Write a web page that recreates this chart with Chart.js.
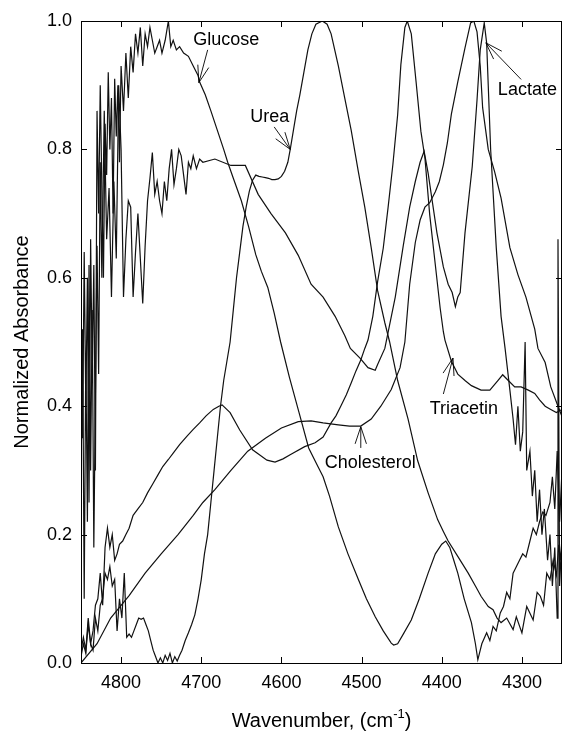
<!DOCTYPE html>
<html>
<head>
<meta charset="utf-8">
<script src="https://cdn.jsdelivr.net/npm/chart.js@4.4.1/dist/chart.umd.min.js"></script>
<style>
  html, body { margin: 0; padding: 0; background: #fff; }
</style>
</head>
<body>
<canvas id="spectra" width="563" height="733"></canvas>
<script>
// normalized NIR absorbance spectra, [wavenumber (cm-1), absorbance]
const glucose = [
  [4850,0.50],[4848,0.35],[4846,0.64],[4844,0.40],[4842,0.60],[4840,0.25],[4838,0.66],[4836,0.45],
  [4834,0.62],[4832,0.30],[4830,0.86],[4828,0.70],[4826,0.90],[4824,0.74],[4822,0.60],[4820,0.84],
  [4818,0.76],[4816,0.92],[4814,0.80],[4812,0.88],[4810,0.70],[4808,0.91],[4806,0.82],[4804,0.90],
  [4802,0.78],[4800,0.93],[4797,0.86],[4794,0.95],[4791,0.88],[4788,0.96],[4785,0.92],[4782,0.98],
  [4779,0.95],[4776,0.99],[4773,0.93],[4770,0.98],[4767,0.96],[4764,0.99],[4761,0.97],[4758,0.95],
  [4755,0.96],[4752,0.97],[4749,0.95],[4745,0.97],[4741,1.0],[4738,0.96],[4735,0.97],[4731,0.955],
  [4727,0.96],[4722,0.95],[4716,0.945],[4710,0.93],[4704,0.915],[4702,0.905],[4695,0.885],[4688,0.86],
  [4680,0.83],[4672,0.80],[4667,0.78],[4660,0.755],[4650,0.72],[4641,0.68],[4632,0.636],[4625,0.61],
  [4617,0.585],[4609,0.545],[4601,0.50],[4590,0.445],[4578,0.39],[4566,0.335],[4554,0.305],[4548,0.29],
  [4540,0.26],[4529,0.212],[4517,0.17],[4504,0.13],[4494,0.10],[4483,0.072],[4473,0.05],[4463,0.031],
  [4460,0.028],[4455,0.03],[4448,0.045],[4438,0.067],[4428,0.10],[4417,0.14],[4408,0.17],[4400,0.185],
  [4395,0.19],[4390,0.18],[4385,0.16],[4380,0.14],[4372,0.10],[4363,0.063],[4358,0.03],[4355,0.005],
  [4350,0.03],[4344,0.047],[4340,0.035],[4336,0.057],[4332,0.05],[4327,0.078],[4323,0.088],[4319,0.11],
  [4315,0.10],[4311,0.14],[4307,0.15],[4303,0.16],[4299,0.17],[4295,0.165],[4290,0.19],[4286,0.21],
  [4282,0.20],[4278,0.22],[4274,0.235],[4270,0.23],[4265,0.25],[4262,0.29],[4259,0.24],[4256,0.33],
  [4253,0.22],[4250,0.30]
];

const urea = [
  [4850,0.01],[4847,0.03],[4844,0.015],[4841,0.06],[4838,0.03],[4835,0.02],[4832,0.07],[4829,0.05],
  [4826,0.09],[4823,0.10],[4820,0.14],[4817,0.13],[4814,0.15],[4811,0.12],[4808,0.13],[4805,0.05],
  [4802,0.10],[4799,0.07],[4796,0.14],[4793,0.04],[4790,0.045],[4787,0.04],[4784,0.05],[4781,0.06],
  [4778,0.07],[4775,0.068],[4772,0.07],[4769,0.06],[4766,0.05],[4763,0.035],[4760,0.02],[4757,0.01],
  [4754,0.0],[4751,0.008],[4748,0.0],[4745,0.012],[4742,0.004],[4739,0.015],[4736,0.0],[4733,0.01],
  [4730,0.003],[4727,0.012],[4724,0.02],[4720,0.035],[4716,0.047],[4712,0.06],[4708,0.075],[4704,0.10],
  [4700,0.13],[4696,0.17],[4692,0.20],[4688,0.25],[4684,0.30],[4680,0.35],[4676,0.40],[4672,0.44],
  [4668,0.47],[4664,0.50],[4660,0.55],[4656,0.60],[4652,0.64],[4648,0.68],[4644,0.71],[4640,0.735],
  [4636,0.752],[4632,0.76],[4628,0.758],[4624,0.757],[4620,0.756],[4616,0.755],[4612,0.753],[4608,0.753],
  [4604,0.754],[4600,0.758],[4596,0.766],[4592,0.78],[4589,0.80],[4585,0.83],[4581,0.86],[4577,0.885],
  [4572,0.92],[4567,0.955],[4562,0.98],[4557,0.995],[4549,1.0],[4543,0.995],[4538,0.98],[4529,0.93],
  [4521,0.88],[4513,0.83],[4504,0.765],[4496,0.71],[4488,0.647],[4480,0.58],[4471,0.53],[4465,0.50],
  [4455,0.44],[4442,0.38],[4430,0.315],[4417,0.265],[4405,0.223],[4398,0.205],[4392,0.19],[4380,0.166],
  [4367,0.14],[4358,0.12],[4351,0.104],[4342,0.088],[4336,0.083],[4331,0.07],[4326,0.063],[4319,0.07],
  [4311,0.052],[4307,0.072],[4300,0.047],[4294,0.088],[4286,0.067],[4281,0.11],[4277,0.104],[4273,0.09],
  [4269,0.14],[4265,0.13],[4261,0.16],[4257,0.137],[4254,0.184],[4252,0.16],[4250,0.19]
];

const triacetin = [
  [4850,0.02],[4847,0.04],[4844,0.02],[4841,0.07],[4838,0.03],[4835,0.05],[4832,0.09],[4829,0.10],
  [4826,0.14],[4823,0.09],[4820,0.18],[4817,0.21],[4814,0.18],[4811,0.20],[4808,0.16],[4805,0.17],
  [4802,0.185],[4798,0.19],[4794,0.20],[4790,0.21],[4785,0.23],[4779,0.24],[4773,0.25],[4767,0.265],
  [4760,0.28],[4754,0.293],[4748,0.306],[4741,0.317],[4735,0.327],[4727,0.34],[4718,0.353],[4710,0.364],
  [4702,0.374],[4694,0.385],[4685,0.395],[4678,0.40],[4674,0.402],[4664,0.39],[4652,0.363],[4636,0.332],
  [4618,0.316],[4608,0.313],[4598,0.318],[4588,0.325],[4571,0.337],[4558,0.343],[4548,0.352],[4538,0.374],
  [4532,0.385],[4526,0.40],[4519,0.418],[4513,0.436],[4507,0.455],[4501,0.472],[4496,0.49],[4492,0.503],
  [4486,0.54],[4480,0.594],[4473,0.646],[4467,0.709],[4461,0.776],[4455,0.854],[4451,0.932],[4446,0.99],
  [4443,1.0],[4438,0.98],[4432,0.905],[4426,0.828],[4421,0.787],[4415,0.698],[4408,0.62],[4402,0.553],
  [4398,0.516],[4396,0.503],[4388,0.47],[4380,0.45],[4371,0.44],[4363,0.432],[4351,0.425],[4340,0.425],
  [4330,0.44],[4324,0.449],[4317,0.44],[4309,0.43],[4301,0.43],[4292,0.425],[4284,0.42],[4278,0.41],
  [4271,0.40],[4264,0.395],[4257,0.39],[4250,0.395]
];

const lactate = [
  [4850,0.28],[4848,0.52],[4846,0.10],[4844,0.48],[4842,0.22],[4840,0.62],[4838,0.30],[4836,0.55],
  [4834,0.18],[4832,0.42],[4830,0.65],[4828,0.45],[4826,0.78],[4824,0.60],[4821,0.86],[4818,0.66],
  [4815,0.74],[4812,0.57],[4809,0.75],[4806,0.63],[4803,0.90],[4800,0.80],[4797,0.57],[4794,0.66],
  [4791,0.72],[4788,0.71],[4785,0.57],[4782,0.64],[4779,0.70],[4776,0.63],[4773,0.56],[4770,0.65],
  [4767,0.72],[4764,0.755],[4761,0.795],[4758,0.73],[4755,0.75],[4752,0.72],[4749,0.70],[4746,0.75],
  [4743,0.72],[4740,0.77],[4737,0.80],[4734,0.745],[4731,0.77],[4728,0.80],[4725,0.79],[4722,0.76],
  [4719,0.73],[4716,0.78],[4713,0.77],[4710,0.79],[4706,0.77],[4702,0.785],[4698,0.78],[4683,0.785],
  [4663,0.775],[4645,0.775],[4629,0.73],[4613,0.70],[4595,0.67],[4579,0.635],[4563,0.59],[4548,0.57],
  [4533,0.54],[4521,0.51],[4514,0.49],[4502,0.475],[4492,0.46],[4483,0.456],[4480,0.465],[4471,0.49],
  [4458,0.57],[4448,0.65],[4440,0.71],[4433,0.75],[4427,0.78],[4422,0.797],[4417,0.763],[4406,0.67],
  [4398,0.617],[4392,0.59],[4387,0.577],[4383,0.555],[4380,0.57],[4377,0.577],[4371,0.67],[4362,0.773],
  [4356,0.877],[4352,0.955],[4347,0.997],[4344,0.966],[4339,0.80],[4332,0.647],[4326,0.54],[4321,0.49],
  [4315,0.425],[4311,0.38],[4308,0.34],[4305,0.40],[4302,0.33],[4299,0.36],[4296,0.50],[4294,0.30],
  [4290,0.33],[4287,0.26],[4284,0.30],[4281,0.22],[4278,0.27],[4275,0.20],[4272,0.24],[4268,0.16],
  [4265,0.20],[4262,0.12],[4259,0.18],[4256,0.07],[4255,0.66],[4253,0.12],[4250,0.20]
];

const cholesterol = [
  [4850,0.0],[4830,0.03],[4813,0.07],[4790,0.105],[4770,0.14],[4750,0.17],[4729,0.20],[4710,0.23],
  [4698,0.25],[4683,0.27],[4663,0.30],[4642,0.33],[4620,0.35],[4600,0.366],[4579,0.376],[4563,0.377],
  [4548,0.374],[4529,0.371],[4515,0.369],[4501,0.369],[4488,0.38],[4476,0.40],[4463,0.426],[4452,0.46],
  [4446,0.50],[4440,0.59],[4433,0.655],[4427,0.69],[4421,0.71],[4415,0.717],[4408,0.734],[4403,0.75],
  [4398,0.776],[4393,0.81],[4388,0.855],[4380,0.905],[4371,0.958],[4364,0.997],[4360,1.0],[4356,0.983],
  [4352,0.93],[4349,0.865],[4342,0.80],[4334,0.765],[4326,0.724],[4315,0.647],[4305,0.605],[4295,0.57],
  [4284,0.52],[4280,0.49],[4271,0.468],[4264,0.43],[4255,0.40],[4250,0.384]
];

const xTicks = [4800, 4700, 4600, 4500, 4400, 4300];
const yTicks = [0, 0.2, 0.4, 0.6, 0.8, 1.0];

// curve labels: text anchor and arrow (tip on the curve, tail near the text), in data units
const labels = [
  { text: "Glucose",     at: [4710, 0.963], tip: [4703, 0.904], tail: [4692, 0.955] },
  { text: "Urea",        at: [4639, 0.843], tip: [4589, 0.800], tail: [4609, 0.835] },
  { text: "Lactate",     at: [4330, 0.885], tip: [4345, 0.966], tail: [4301, 0.909] },
  { text: "Triacetin",   at: [4415, 0.388], tip: [4386, 0.475], tail: [4398, 0.419] },
  { text: "Cholesterol", at: [4546, 0.304], tip: [4501, 0.368], tail: [4501, 0.335] }
];

const series = { glucose, urea, triacetin, lactate, cholesterol };

const FONT = "'Liberation Sans', Arial, Helvetica, sans-serif";
Chart.defaults.font.family = FONT;
Chart.defaults.color = "#000";

// frame, inward ticks, x tick labels, axis titles and curve labels
const decorations = {
  id: "decorations",
  afterDraw(chart) {
    const { ctx, chartArea: a, scales: { x, y } } = chart;
    ctx.save();
    ctx.strokeStyle = "#000";
    ctx.lineWidth = 1;
    ctx.strokeRect(a.left + 0.5, a.top + 0.5, a.right - a.left - 1, a.bottom - a.top);

    const len = 6;
    ctx.beginPath();
    xTicks.forEach(v => {
      const px = Math.round(x.getPixelForValue(v)) + 0.5;
      ctx.moveTo(px, a.bottom); ctx.lineTo(px, a.bottom - len);
      ctx.moveTo(px, a.top); ctx.lineTo(px, a.top + len);
    });
    yTicks.forEach(v => {
      const py = Math.round(y.getPixelForValue(v)) + 0.5;
      ctx.moveTo(a.left, py); ctx.lineTo(a.left + len, py);
      ctx.moveTo(a.right, py); ctx.lineTo(a.right - len, py);
    });
    ctx.stroke();

    ctx.fillStyle = "#000";
    ctx.font = "18px " + FONT;
    ctx.textAlign = "center";
    ctx.textBaseline = "middle";
    xTicks.forEach(v => ctx.fillText(String(v), x.getPixelForValue(v), a.bottom + 20));

    // y title
    ctx.font = "20px " + FONT;
    ctx.save();
    ctx.translate(22, (a.top + a.bottom) / 2);
    ctx.rotate(-Math.PI / 2);
    ctx.fillText("Normalized Absorbance", 0, 0);
    ctx.restore();

    // x title with superscript
    const main = "Wavenumber, (cm", sup = "-1", close = ")";
    ctx.textAlign = "left";
    ctx.textBaseline = "alphabetic";
    ctx.font = "20px " + FONT;
    const w1 = ctx.measureText(main).width;
    const w3 = ctx.measureText(close).width;
    ctx.font = "13px " + FONT;
    const w2 = ctx.measureText(sup).width;
    const total = w1 + w2 + w3;
    let tx = (a.left + a.right) / 2 - total / 2;
    const base = 727;
    ctx.font = "20px " + FONT;
    ctx.fillText(main, tx, base);
    ctx.font = "13px " + FONT;
    ctx.fillText(sup, tx + w1, base - 9);
    ctx.font = "20px " + FONT;
    ctx.fillText(close, tx + w1 + w2, base);

    // curve labels with open arrows
    ctx.font = "18px " + FONT;
    ctx.lineWidth = 0.9;
    labels.forEach(l => {
      ctx.fillText(l.text, x.getPixelForValue(l.at[0]), y.getPixelForValue(l.at[1]));
      const tx0 = x.getPixelForValue(l.tail[0]), ty0 = y.getPixelForValue(l.tail[1]);
      const tx1 = x.getPixelForValue(l.tip[0]), ty1 = y.getPixelForValue(l.tip[1]);
      const ang = Math.atan2(ty0 - ty1, tx0 - tx1);
      const shaft = Math.hypot(tx0 - tx1, ty0 - ty1);
      const head = Math.min(18, shaft);
      ctx.beginPath();
      ctx.moveTo(tx1, ty1); ctx.lineTo(tx0, ty0);
      [-0.32, 0.32].forEach(d => {
        ctx.moveTo(tx1, ty1);
        ctx.lineTo(tx1 + head * Math.cos(ang + d), ty1 + head * Math.sin(ang + d));
      });
      ctx.stroke();
    });
    ctx.restore();
  }
};

new Chart(document.getElementById("spectra"), {
  type: "line",
  data: {
    datasets: Object.entries(series).map(([name, pts]) => ({
      label: name,
      data: pts.map(([wn, a]) => ({ x: wn, y: a })),
      borderColor: "#111",
      borderWidth: 1.2,
      pointRadius: 0,
      tension: 0,
      fill: false
    }))
  },
  options: {
    responsive: false,
    animation: false,
    layout: { padding: { top: 21, right: 1, left: 0, bottom: 0 } },
    plugins: { legend: { display: false }, tooltip: { enabled: false } },
    scales: {
      x: {
        type: "linear",
        reverse: true,
        min: 4250,
        max: 4850,
        grid: { display: false, drawTicks: false },
        border: { display: false },
        afterBuildTicks: s => { s.ticks = xTicks.map(v => ({ value: v })); },
        afterFit: s => { s.height = 70; },
        ticks: { display: false }
      },
      y: {
        min: 0,
        max: 1,
        grid: { display: false, drawTicks: false },
        border: { display: false },
        afterBuildTicks: s => { s.ticks = yTicks.map(v => ({ value: v })); },
        afterFit: s => { s.width = 81; },
        ticks: { font: { size: 18 }, padding: 9, callback: v => v.toFixed(1) }
      }
    }
  },
  plugins: [decorations]
});
</script>
</body>
</html>
